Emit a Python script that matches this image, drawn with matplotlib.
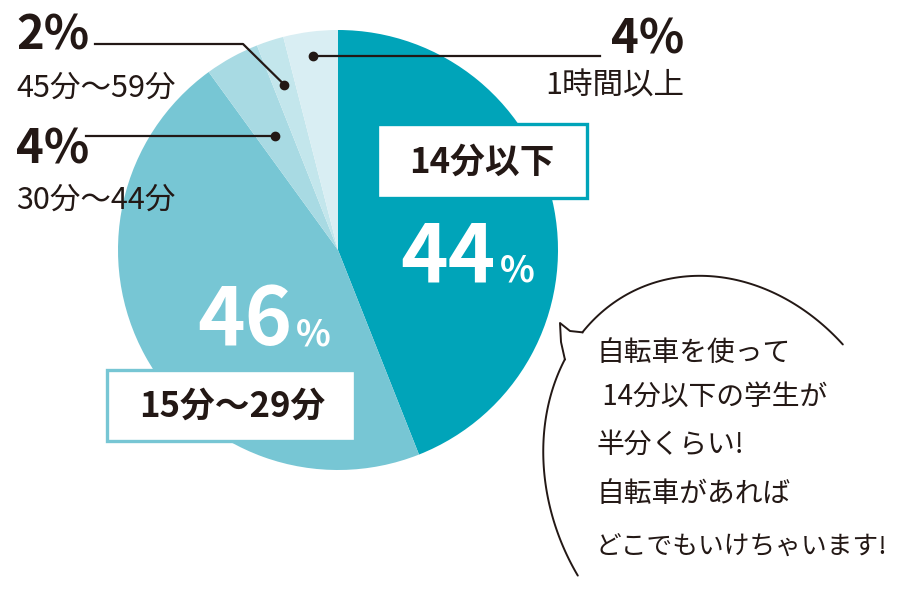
import numpy as np
import matplotlib.pyplot as plt
from matplotlib.patches import Rectangle

plt.rcParams['font.family'] = ['Noto Sans CJK JP', 'DejaVu Sans']

# data (clockwise from the top)
categories = ["14分以下", "15分～29分", "30分～44分", "45分～59分", "1時間以上"]
values = [44, 46, 4, 2, 4]
colors = ["#00a4b9", "#77c6d4", "#a8dae3", "#c3e6ec", "#d9eef3"]

bubbleLines = ["自転車を使って", " 14分以下の学生が", "半分くらい!", "自転車があれば", "どこでもいけちゃいます!"]

ink = "#231815"
cx, cy, R = 338, 250, 220

fig = plt.figure(figsize=(9, 6), dpi=100)
ax = fig.add_axes([0, 0, 1, 1])

# y axis is inverted, so start at -90 and go "counterclock" to look clockwise
wedges, _ = ax.pie(values, colors=colors, startangle=-90, counterclock=True,
                   radius=R, center=(cx, cy), wedgeprops=dict(linewidth=0))
ax.set_xlim(0, 900)
ax.set_ylim(600, 0)
ax.set_aspect('equal')
ax.axis('off')


def midPoint(i, frac):
	w = wedges[i]
	ang = np.deg2rad((w.theta1 + w.theta2) / 2)
	return cx + R * frac * np.cos(ang), cy + R * frac * np.sin(ang)


# leader lines for the small slices
x0, y0 = midPoint(4, 0.89)
ax.plot([x0, 600], [y0, y0], color=ink, lw=1.6)
ax.plot(x0, y0, 'o', color=ink, ms=6)
ax.text(684, 40, f"{values[4]}%", ha='right', va='center', fontsize=34, fontweight='bold', color=ink)
ax.text(684, 86, categories[4], ha='right', va='center', fontsize=22, color=ink)

x0, y0 = midPoint(3, 0.79)
ax.plot([95, 243, x0], [44, 44, y0], color=ink, lw=1.6)
ax.plot(x0, y0, 'o', color=ink, ms=6)
ax.text(16, 36, f"{values[3]}%", ha='left', va='center', fontsize=34, fontweight='bold', color=ink)
ax.text(16, 88, categories[3], ha='left', va='center', fontsize=22, color=ink)

x0, y0 = midPoint(2, 0.59)
ax.plot([86, x0], [y0, y0], color=ink, lw=1.6)
ax.plot(x0, y0, 'o', color=ink, ms=6)
ax.text(16, 150, f"{values[2]}%", ha='left', va='center', fontsize=34, fontweight='bold', color=ink)
ax.text(16, 200, categories[2], ha='left', va='center', fontsize=22, color=ink)

# label boxes for the two big slices
ax.add_patch(Rectangle((377, 124), 210, 74, facecolor='white', edgecolor=colors[0], lw=2.4))
ax.text(482, 162, categories[0], ha='center', va='center', fontsize=25, fontweight='bold', color=ink)
ax.add_patch(Rectangle((107, 370), 248, 71, facecolor='white', edgecolor=colors[1], lw=2.4))
ax.text(232, 406, categories[1], ha='center', va='center', fontsize=25, fontweight='bold', color=ink)

# big white percentages
ax.text(495, 282, f"{values[0]}", ha='right', va='baseline', fontsize=58, fontweight='bold', color='white')
ax.text(500, 282, "%", ha='left', va='baseline', fontsize=26, fontweight='bold', color='white')
ax.text(292, 345, f"{values[1]}", ha='right', va='baseline', fontsize=58, fontweight='bold', color='white')
ax.text(296, 345, "%", ha='left', va='baseline', fontsize=26, fontweight='bold', color='white')

# speech bubble: a tilted ellipse, open at the tail and at the right
ecx, ecy, ea, eb, phi = 725, 480, 210, 175, np.deg2rad(65)


def ellipsePts(a0, a1):
	th = np.deg2rad(np.linspace(a0, a1, 80))
	r = ea * eb / np.sqrt((eb * np.cos(th - phi)) ** 2 + (ea * np.sin(th - phi)) ** 2)
	return ecx + r * np.cos(th), ecy + r * np.sin(th)


bx, by = ellipsePts(-134, -49)
bx2, by2 = ellipsePts(-143, -213)
ax.plot(bx, by, color=ink, lw=1.4, solid_capstyle='round')
ax.plot(bx2, by2, color=ink, lw=1.4, solid_capstyle='round')
ax.plot([bx[0], 570, 560, 561, bx2[0]], [by[0], 331, 323, 342, by2[0]], color=ink, lw=1.4)

ys = [353, 397, 445, 494, 548]
sizes = [20, 20, 20, 20, 18.5]
for line, yy, fs in zip(bubbleLines, ys, sizes):
	ax.text(596, yy, line, ha='left', va='center', fontsize=fs, color=ink)

fig.savefig("out.png", dpi=100)
